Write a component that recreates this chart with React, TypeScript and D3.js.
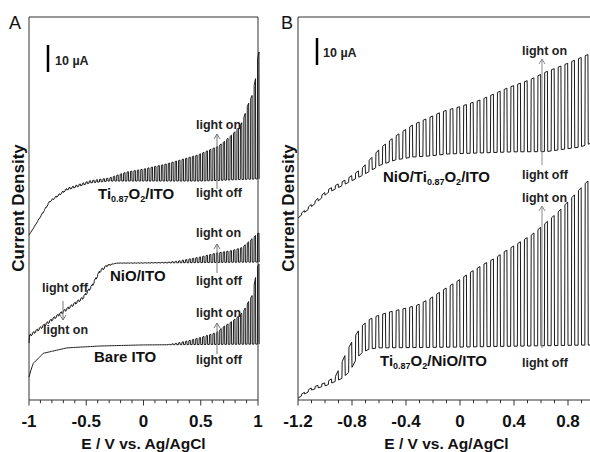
import React from 'react';
import * as d3 from 'd3';

// ---------- Panel A data (E in V, current in µA, arbitrary offset) ----------
const A_TI_DARK_E = [-1.0, -0.97, -0.82, -0.67, -0.47, -0.3, 0.0, 0.5, 1.0];
const A_TI_DARK = [61.1, 63.0, 73.3, 77.8, 80.4, 81.1, 81.1, 81.1, 81.9];
const A_TI_PHOTO_E = [-1.0, -0.8, -0.5, -0.3, -0.15, 0.0, 0.2, 0.47, 0.65, 0.71, 0.78, 0.84, 0.87, 0.91, 0.95, 0.99, 1.0];
const A_TI_PHOTO = [0, 0.4, 0.7, 1.1, 3.3, 4.4, 6.3, 9.6, 12.6, 14.4, 17.0, 19.6, 21.9, 27.4, 31.1, 39.6, 47.0];

const A_NIO_DARK_E = [-1.0, -0.995, -0.9, -0.73, -0.53, -0.45, -0.38, -0.32, -0.23, 0.0, 0.5, 1.0];
const A_NIO_DARK = [21.1, 24.1, 27.0, 32.2, 38.1, 42.6, 48.1, 50.0, 50.7, 50.7, 50.9, 51.1];
const A_NIO_PHOTO_E = [-1.0, -0.35, -0.25, 0.2, 0.3, 0.49, 0.64, 0.77, 0.86, 0.91, 0.96, 1.0];
const A_NIO_PHOTO = [-0.7, -0.7, 0, 0.2, 0.6, 2.0, 3.5, 4.3, 5.4, 7.2, 9.1, 10.7];

const A_BARE_DARK_E = [-1.0, -0.98, -0.962, -0.875, -0.67, -0.38, 0.0, 1.0];
const A_BARE_DARK = [8.5, 11.5, 13.6, 17.3, 19.3, 20.0, 20.4, 20.7];
const A_BARE_PHOTO_E = [-1.0, 0.2, 0.3, 0.4, 0.5, 0.64, 0.69, 0.76, 0.82, 0.87, 0.91, 0.95, 1.0];
const A_BARE_PHOTO = [0, 0, 0.6, 1.5, 2.6, 4.4, 6.3, 8.1, 10.0, 11.9, 15.2, 18.1, 29.6];

// ---------- Panel B data ----------
const B_TOP_DARK_E = [-1.2, -0.98, -0.73, -0.59, -0.48, -0.35, -0.22, -0.1, 0.15, 0.39, 0.64, 0.89, 1.0];
const B_TOP_DARK = [67.4, 76.7, 83.0, 87.0, 88.9, 90.0, 90.4, 91.1, 91.5, 91.9, 92.0, 93.7, 95.6];
const B_TOP_PHOTO_E = [-1.2, -1.0, -0.85, -0.73, -0.59, -0.47, -0.35, -0.22, -0.15, 0.0, 0.15, 0.35, 0.52, 0.64, 0.76, 0.89, 0.96, 1.0];
const B_TOP_PHOTO = [0.7, 1.1, 1.5, 2.6, 6.3, 9.0, 11.9, 14.4, 15.6, 17.4, 19.6, 23.7, 26.7, 29.6, 31.1, 33.0, 33.3, 34.1];

const B_BOT_DARK_E = [-1.2, -1.1, -0.98, -0.87, -0.815, -0.763, -0.72, -0.667, -0.6, 0.0, 0.5, 1.0];
const B_BOT_DARK = [0.7, 3.7, 5.6, 8.1, 10.7, 15.6, 17.8, 18.9, 19.3, 19.6, 20.0, 20.4];
const B_BOT_PHOTO_E = [-1.2, -1.0, -0.92, -0.867, -0.815, -0.763, -0.72, -0.667, -0.615, -0.52, -0.42, -0.32, -0.22, -0.13, -0.02, 0.07, 0.17, 0.27, 0.32, 0.42, 0.53, 0.61, 0.73, 0.83, 0.93, 1.0];
const B_BOT_PHOTO = [0.6, 1.1, 1.9, 6.7, 9.6, 9.3, 10.0, 11.1, 11.9, 13.3, 14.4, 15.6, 18.1, 21.1, 24.4, 27.4, 30.4, 33.0, 34.8, 37.8, 41.1, 44.4, 49.6, 54.8, 60.0, 63.0];

// chopping periods (V per light off/on cycle)
const A_PERIOD = 0.03;
const B_PERIOD = 0.05;

// ticks
const A_TICKS = [-1, -0.5, 0, 0.5, 1];
const A_TICK_LABELS = ['-1', '-0.5', '0', '0.5', '1'];
const B_TICKS = [-1.2, -0.8, -0.4, 0, 0.4, 0.8];
const B_TICK_LABELS = ['-1.2', '-0.8', '-0.4', '0', '0.4', '0.8'];

const FONT = "'Liberation Sans', Arial, Helvetica, sans-serif";

function chopped(
  darkE: number[], dark: number[], photoE: number[], photo: number[],
  e0: number, e1: number, period: number
): [number, number][] {
  const d = d3.scaleLinear().domain(darkE).range(dark).clamp(true);
  const p = d3.scaleLinear().domain(photoE).range(photo).clamp(true);
  const pts: [number, number][] = [];
  const n = Math.round((e1 - e0) / period);
  const rise = period * 0.05;
  const addDark = (a: number, b: number) => {
    pts.push([a, d(a)]);
    darkE.forEach((k) => { if (k > a && k < b) pts.push([k, d(k)]); });
    pts.push([b, d(b)]);
  };
  for (let i = 0; i < n; i++) {
    const a = e0 + i * period;
    const m = a + period / 2;
    const b = a + period;
    addDark(a, m);
    pts.push([m + rise, d(m + rise) + p(m + rise)]);
    pts.push([b - rise, d(b - rise) + p(b - rise)]);
    pts.push([b, d(b)]);
  }
  return pts;
}

const Y0 = 400;
const YTOP = 17;
const yScale = d3.scaleLinear().domain([0, (Y0 - YTOP) / 2.7]).range([Y0, YTOP]);
const xA = d3.scaleLinear().domain([-1, 1]).range([29, 258]);
const xB = d3.scaleLinear().domain([-1.2, 1.0]).range([298, 595]);

function Arrow({ x, y1, y2, color }: { x: number; y1: number; y2: number; color: string }) {
  const dir = y2 < y1 ? 1 : -1;
  return (
    <g stroke={color} strokeWidth={1} fill="none">
      <line x1={x} y1={y1} x2={x} y2={y2} />
      <polyline points={`${x - 3},${y2 + dir * 5} ${x},${y2} ${x + 3},${y2 + dir * 5}`} />
    </g>
  );
}

function Lbl({ x, y, children, size = 12.5 }: any) {
  return (
    <text x={x} y={y} fontSize={size} fontWeight="bold" fontFamily={FONT} fill="#222">{children}</text>
  );
}

export default function App() {
  const lineA = d3.line<[number, number]>().x((d) => xA(d[0])).y((d) => yScale(d[1]));
  const lineB = d3.line<[number, number]>().x((d) => xB(d[0])).y((d) => yScale(d[1]));

  const aTi = chopped(A_TI_DARK_E, A_TI_DARK, A_TI_PHOTO_E, A_TI_PHOTO, -1, 1, A_PERIOD);
  const aNio = chopped(A_NIO_DARK_E, A_NIO_DARK, A_NIO_PHOTO_E, A_NIO_PHOTO, -1, 1, A_PERIOD);
  const aBare = chopped(A_BARE_DARK_E, A_BARE_DARK, A_BARE_PHOTO_E, A_BARE_PHOTO, -1, 1, A_PERIOD);
  const bTop = chopped(B_TOP_DARK_E, B_TOP_DARK, B_TOP_PHOTO_E, B_TOP_PHOTO, -1.2, 1.0, B_PERIOD);
  const bBot = chopped(B_BOT_DARK_E, B_BOT_DARK, B_BOT_PHOTO_E, B_BOT_PHOTO, -1.2, 1.0, B_PERIOD);

  const aMinor = d3.range(-10, 11).map((i) => i / 10);
  const bMinor = d3.range(-12, 11).map((i) => i / 10);

  const axisColor = '#333';
  const curveColor = '#1a1a1a';
  const arrowColor = '#8a8a8a';

  return (
    <svg width={590} height={452} style={{ position: 'absolute', left: 0, top: 0, display: 'block', background: '#fff' }}>
      <rect x={0} y={0} width={590} height={452} fill="#fff" />
      {/* Panel A frame */}
      <path d={`M${xA(-1)},${Y0} V${YTOP} H${xA(1)} V${Y0} Z`} fill="none" stroke={axisColor} strokeWidth={1} />
      {aMinor.map((t, i) => (
        <line key={i} x1={xA(t)} x2={xA(t)} y1={Y0} y2={Y0 + (A_TICKS.some((m) => Math.abs(m - t) < 1e-6) ? 5.5 : 3.2)} stroke={axisColor} strokeWidth={1} />
      ))}
      {A_TICKS.map((t, i) => (
        <text key={i} x={xA(t)} y={427} textAnchor="middle" fontSize={17} fontWeight="bold" fontFamily={FONT} fill="#111">{A_TICK_LABELS[i]}</text>
      ))}
      <text x={xA(0)} y={449} textAnchor="middle" fontSize={15.5} fontWeight="bold" fontFamily={FONT} fill="#111">E / V vs. Ag/AgCl</text>
      <text transform="translate(24,208) rotate(-90)" textAnchor="middle" fontSize={17} fontWeight="bold" fontFamily={FONT} fill="#111">Current Density</text>
      <text x={9} y={29} fontSize={18} fontFamily={FONT} fill="#111">A</text>

      {/* Panel A curves */}
      <g fill="none" stroke={curveColor} strokeWidth={1} strokeLinejoin="round">
        <path d={lineA(aTi) || ''} />
        <path d={lineA(aNio) || ''} />
        <path d={lineA(aBare) || ''} />
      </g>

      {/* Panel A scale bar */}
      <line x1={48} x2={48} y1={45} y2={72} stroke="#000" strokeWidth={2.5} />
      <Lbl x={55} y={65}>10 µA</Lbl>

      {/* Panel A labels */}
      <Lbl x={196} y={129}>light on</Lbl>
      <Arrow x={217} y1={189} y2={134} color="#777" />
      <Lbl x={196} y={197}>light off</Lbl>
      <text x={98} y={199} fontSize={15} fontWeight="bold" fontFamily={FONT} fill="#111">
        Ti<tspan fontSize={9} dy={3}>0.87</tspan><tspan dy={-3}>O</tspan><tspan fontSize={9} dy={3}>2</tspan><tspan dy={-3}>/ITO</tspan>
      </text>

      <Lbl x={196} y={237}>light on</Lbl>
      <Arrow x={217} y1={273} y2={244} color="#777" />
      <Lbl x={196} y={285}>light off</Lbl>
      <text x={110} y={281} fontSize={15} fontWeight="bold" fontFamily={FONT} fill="#111">NiO/ITO</text>

      <Lbl x={42} y={292}>light off</Lbl>
      <Arrow x={63} y1={301} y2={320} color="#777" />
      <Lbl x={43} y={334}>light on</Lbl>

      <Lbl x={196} y={317}>light on</Lbl>
      <Arrow x={217} y1={354} y2={323} color="#777" />
      <Lbl x={196} y={364}>light off</Lbl>
      <text x={94} y={362} fontSize={15} fontWeight="bold" fontFamily={FONT} fill="#111">Bare ITO</text>

      {/* Panel B frame */}
      <path d={`M${xB(1.0)},${Y0} H${xB(-1.2)} V${YTOP} H${xB(1.0)}`} fill="none" stroke={axisColor} strokeWidth={1} />
      {bMinor.map((t, i) => (
        <line key={i} x1={xB(t)} x2={xB(t)} y1={Y0} y2={Y0 + (B_TICKS.some((m) => Math.abs(m - t) < 1e-6) ? 5.5 : 3.2)} stroke={axisColor} strokeWidth={1} />
      ))}
      {B_TICKS.map((t, i) => (
        <text key={i} x={xB(t)} y={427} textAnchor="middle" fontSize={17} fontWeight="bold" fontFamily={FONT} fill="#111">{B_TICK_LABELS[i]}</text>
      ))}
      <text x={xB(-0.1)} y={449} textAnchor="middle" fontSize={15.5} fontWeight="bold" fontFamily={FONT} fill="#111">E / V vs. Ag/AgCl</text>
      <text transform="translate(294,208) rotate(-90)" textAnchor="middle" fontSize={17} fontWeight="bold" fontFamily={FONT} fill="#111">Current Density</text>
      <text x={281} y={29} fontSize={18} fontFamily={FONT} fill="#111">B</text>

      {/* Panel B curves */}
      <g fill="none" stroke={curveColor} strokeWidth={1} strokeLinejoin="round">
        <path d={lineB(bTop) || ''} />
        <path d={lineB(bBot) || ''} />
      </g>

      {/* Panel B scale bar */}
      <line x1={317} x2={317} y1={38} y2={65} stroke="#000" strokeWidth={2.5} />
      <Lbl x={323} y={57}>10 µA</Lbl>

      {/* Panel B labels */}
      <Lbl x={522} y={55}>light on</Lbl>
      <Arrow x={542} y1={165} y2={59} color={arrowColor} />
      <Lbl x={522} y={179}>light off</Lbl>
      <text x={383} y={182} fontSize={15} fontWeight="bold" fontFamily={FONT} fill="#111">
        NiO/Ti<tspan fontSize={9} dy={3}>0.87</tspan><tspan dy={-3}>O</tspan><tspan fontSize={9} dy={3}>2</tspan><tspan dy={-3}>/ITO</tspan>
      </text>

      <Lbl x={522} y={202}>light on</Lbl>
      <Arrow x={542} y1={348} y2={206} color={arrowColor} />
      <Lbl x={522} y={367}>light off</Lbl>
      <text x={380} y={366} fontSize={15} fontWeight="bold" fontFamily={FONT} fill="#111">
        Ti<tspan fontSize={9} dy={3}>0.87</tspan><tspan dy={-3}>O</tspan><tspan fontSize={9} dy={3}>2</tspan><tspan dy={-3}>/NiO/ITO</tspan>
      </text>
    </svg>
  );
}
